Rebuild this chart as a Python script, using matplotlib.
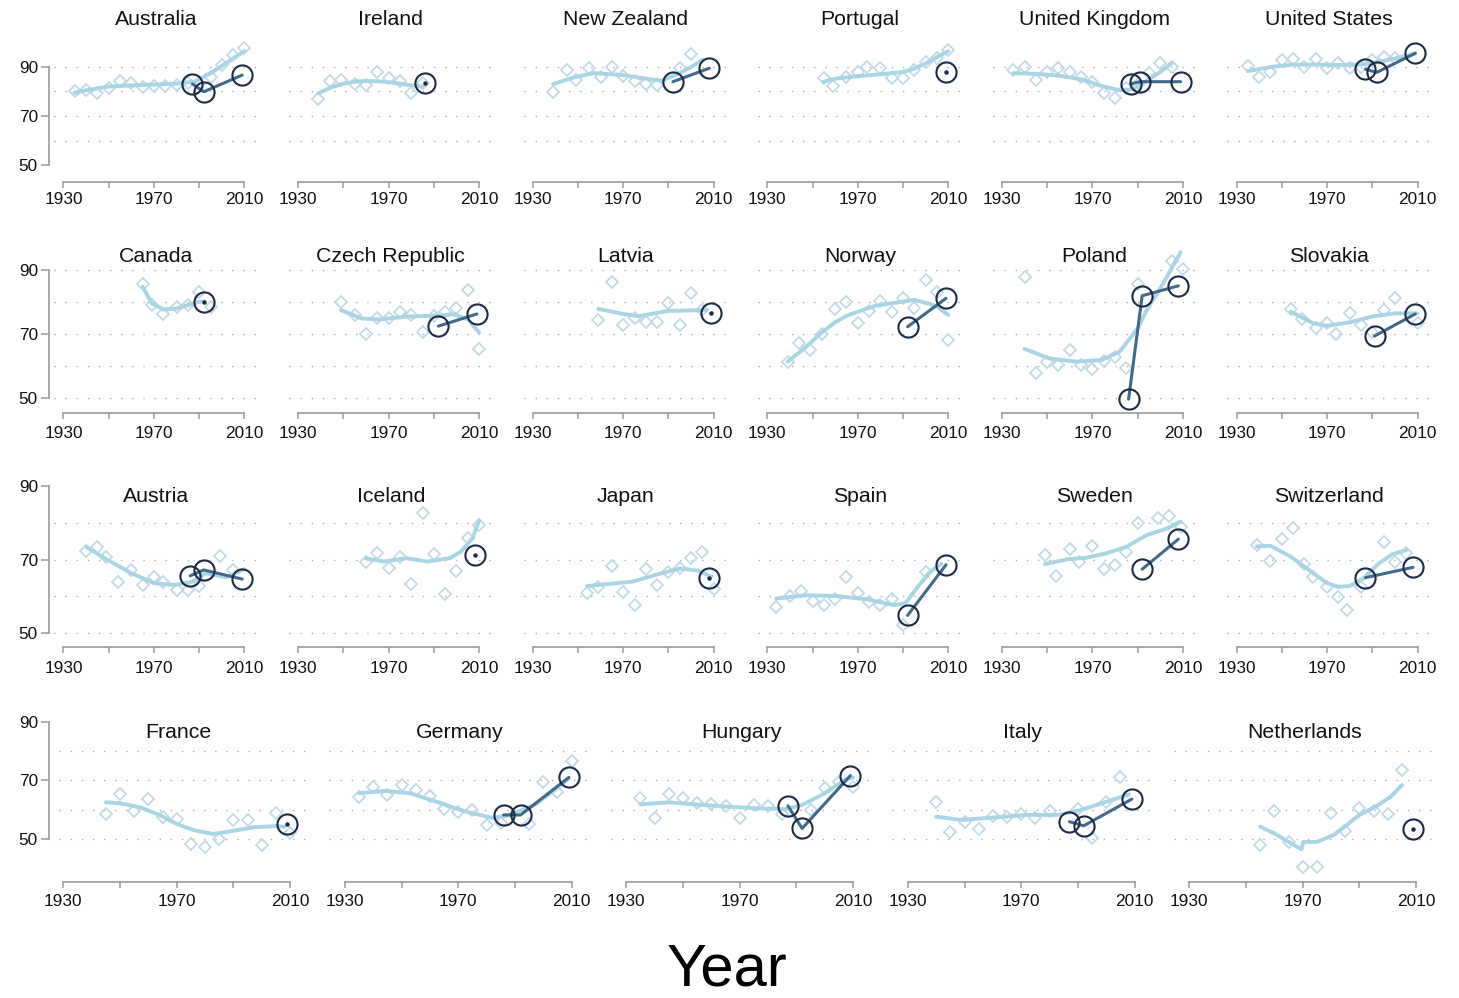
import matplotlib
matplotlib.use("Agg")
import matplotlib.pyplot as plt

plt.rcParams['font.family'] = ['Liberation Sans', 'DejaVu Sans']

# ---------------------------------------------------------------------------
# Data: (year, value) pairs per country.
#   *_obs    : yearly observations (light diamonds)
#   *_fit    : smoothed trend (light line)
#   *_survey : survey estimates (dark circles)
# ---------------------------------------------------------------------------
australia_obs = [(1935, 80.3), (1940, 80.6), (1945, 79.3), (1950, 81.3), (1955, 84.3), (1960, 83.6),
                 (1965, 81.7), (1970, 82.2), (1975, 82.2), (1980, 82.6), (1985, 83.3), (1990, 83.0),
                 (1995, 86.0), (2000, 90.8), (2005, 94.9), (2010, 97.6)]
australia_fit = [(1935, 79.5), (1940, 80.5), (1950, 82.0), (1960, 82.5), (1970, 82.8), (1980, 83.2),
                 (1988, 84.0), (1995, 87.5), (2000, 90.5), (2005, 93.5), (2010, 96.5)]
australia_survey = [(1987, 83.1), (1992, 79.9), (2009, 86.7)]

ireland_obs = [(1939, 76.8), (1944, 84.3), (1949, 84.7), (1955, 83.1), (1960, 82.7), (1965, 88.1),
               (1970, 85.4), (1975, 84.4), (1980, 79.3), (1985, 83.5)]
ireland_fit = [(1939, 79.3), (1945, 81.8), (1950, 83.2), (1955, 84.0), (1960, 84.3), (1965, 84.2),
               (1970, 83.8), (1975, 83.2), (1980, 82.5), (1985, 82.0)]
ireland_survey = [(1986, 83.3)]

new_zealand_obs = [(1939, 79.9), (1945, 88.8), (1949, 84.7), (1955, 89.5), (1960, 85.8), (1965, 89.9),
                   (1970, 86.3), (1975, 84.4), (1980, 82.9), (1985, 82.7), (1995, 89.5), (2000, 95.3)]
new_zealand_fit = [(1939, 83.0), (1948, 85.7), (1957, 87.5), (1970, 86.7), (1981, 85.1), (1987, 84.4),
                   (1994, 87.1), (2000, 90.0), (2005, 93.0)]
new_zealand_survey = [(1992, 84.0), (2008, 89.5)]

portugal_obs = [(1955, 85.6), (1959, 82.4), (1965, 86.0), (1970, 88.1), (1974, 89.9), (1980, 89.5),
                (1985, 85.4), (1990, 85.4), (1995, 88.8), (2000, 92.2), (2005, 93.8), (2010, 96.9)]
portugal_fit = [(1955, 84.0), (1960, 85.2), (1970, 86.3), (1980, 87.0), (1990, 88.0), (1995, 89.3),
                (2000, 91.5), (2005, 94.0), (2010, 96.5)]
portugal_survey = [(2009, 87.8)]

uk_obs = [(1935, 88.8), (1940, 89.9), (1945, 84.7), (1950, 88.1), (1955, 89.5), (1960, 88.1),
          (1965, 86.0), (1970, 84.0), (1975, 79.3), (1980, 77.2), (1985, 81.3), (1990, 83.0),
          (1995, 87.4), (2000, 91.5), (2005, 89.9)]
uk_fit = [(1935, 87.5), (1945, 87.2), (1955, 86.5), (1965, 85.0), (1975, 82.0), (1982, 80.5),
          (1988, 81.0), (1995, 85.0), (2000, 88.0), (2005, 91.5)]
uk_survey = [(1987, 83.1), (1991, 84.0), (2009, 84.0)]

us_obs = [(1935, 90.5), (1940, 86.0), (1945, 88.1), (1950, 92.9), (1955, 93.3), (1960, 89.9),
          (1965, 93.3), (1970, 89.5), (1975, 91.5), (1980, 89.5), (1985, 90.0), (1990, 92.9),
          (1995, 94.2), (2000, 93.5)]
us_fit = [(1935, 88.3), (1945, 90.0), (1955, 91.0), (1965, 91.0), (1975, 90.8), (1985, 91.0),
          (1995, 92.5), (2000, 93.5), (2009, 95.5)]
us_survey = [(1987, 89.1), (1992, 87.8), (2009, 95.6)]

canada_obs = [(1965, 85.4), (1969, 78.9), (1974, 76.0), (1980, 78.4), (1985, 78.9), (1990, 83.1),
              (1995, 78.4)]
canada_fit = [(1965, 84.6), (1969, 79.5), (1974, 77.5), (1980, 77.8), (1985, 78.9), (1990, 79.9),
              (1992, 80.0)]
canada_survey = [(1992, 79.9)]

czech_obs = [(1949, 79.9), (1955, 75.8), (1960, 69.8), (1965, 74.9), (1970, 74.7), (1975, 76.6),
             (1980, 75.8), (1985, 70.4), (1990, 75.5), (1995, 76.6), (2000, 77.9), (2005, 83.6),
             (2010, 65.1)]
czech_fit = [(1949, 77.3), (1958, 74.7), (1966, 74.4), (1978, 75.3), (1991, 75.6), (1999, 76.0),
             (2005, 74.4), (2010, 70.3)]
czech_survey = [(1992, 72.3), (2009, 76.1)]

latvia_obs = [(1959, 74.2), (1965, 86.2), (1970, 72.7), (1975, 74.9), (1980, 73.7), (1985, 73.7),
              (1990, 79.4), (1995, 72.7), (2000, 82.6), (2005, 77.3)]
latvia_fit = [(1959, 77.7), (1970, 76.1), (1977, 75.4), (1990, 77.1), (1995, 77.1), (2007, 77.4)]
latvia_survey = [(2009, 76.3)]

norway_obs = [(1939, 61.0), (1944, 66.9), (1949, 64.8), (1954, 69.7), (1960, 77.7), (1965, 79.9),
              (1970, 73.2), (1975, 77.0), (1980, 80.2), (1985, 76.6), (1990, 81.2), (1995, 77.9),
              (2000, 86.7), (2005, 83.1), (2010, 68.0)]
norway_fit = [(1939, 61.2), (1944, 64.0), (1948, 66.4), (1954, 70.3), (1960, 73.5), (1965, 75.5),
              (1970, 76.8), (1978, 78.7), (1995, 80.5), (2001, 79.4), (2005, 78.4), (2010, 75.8)]
norway_survey = [(1992, 72.1), (2009, 81.0)]

poland_obs = [(1940, 87.6), (1945, 57.8), (1950, 61.2), (1955, 60.2), (1960, 64.8), (1965, 60.2),
              (1970, 58.9), (1975, 61.5), (1980, 62.6), (1985, 59.3), (1990, 85.4), (2005, 92.7),
              (2010, 90.2)]
poland_fit = [(1940, 65.2), (1951, 62.2), (1963, 61.2), (1974, 61.7), (1982, 64.3), (1990, 71.6),
              (1994, 77.3), (2000, 84.1), (2009, 95.4)]
poland_survey = [(1986, 49.5), (1992, 81.8), (2008, 84.9)]

slovakia_obs = [(1954, 77.7), (1959, 74.5), (1965, 71.8), (1970, 73.2), (1974, 69.7), (1980, 76.5),
                (1985, 72.7), (1990, 70.5), (1995, 77.3), (2000, 81.2), (2010, 73.2)]
slovakia_fit = [(1954, 76.8), (1964, 73.2), (1970, 72.4), (1980, 73.5), (1990, 75.3), (2000, 76.3),
                (2010, 76.3)]
slovakia_survey = [(1991, 69.2), (2009, 76.1)]

austria_obs = [(1940, 72.4), (1945, 73.4), (1949, 70.7), (1954, 64.0), (1960, 67.2), (1965, 63.1),
               (1970, 65.2), (1974, 64.0), (1980, 61.6), (1985, 61.7), (1990, 62.9), (1999, 71.1),
               (2005, 67.2)]
austria_fit = [(1940, 73.5), (1949, 70.1), (1960, 66.3), (1970, 63.6), (1979, 63.1), (1987, 64.0),
               (1993, 66.3), (2002, 65.2), (2010, 67.4)]
austria_survey = [(1986, 65.6), (1992, 67.2), (2009, 64.7)]

iceland_obs = [(1960, 69.5), (1965, 71.9), (1970, 67.7), (1975, 70.7), (1980, 63.4), (1985, 82.8),
               (1990, 71.5), (1995, 60.7), (2000, 67.0), (2005, 75.8), (2010, 79.5)]
iceland_fit = [(1960, 70.4), (1968, 69.5), (1978, 70.4), (1987, 69.5), (1997, 70.4), (2002, 72.2),
               (2007, 75.8), (2010, 80.6)]
iceland_survey = [(2008, 71.3)]

japan_obs = [(1954, 60.8), (1959, 62.5), (1965, 68.3), (1970, 61.3), (1975, 57.7), (1980, 67.4),
             (1985, 63.1), (1990, 66.7), (1995, 67.6), (2000, 70.4), (2005, 72.2), (2010, 61.9)]
japan_fit = [(1954, 62.8), (1964, 63.4), (1974, 64.0), (1984, 65.8), (1995, 67.6), (2003, 67.0),
             (2009, 65.4)]
japan_survey = [(2008, 64.9)]

spain_obs = [(1934, 57.1), (1940, 60.1), (1945, 61.4), (1950, 58.7), (1955, 57.6), (1960, 59.2),
             (1965, 65.3), (1970, 60.8), (1975, 58.5), (1980, 57.6), (1985, 59.4), (1990, 52.1),
             (2000, 66.7)]
spain_fit = [(1934, 59.4), (1947, 60.3), (1960, 60.1), (1974, 59.2), (1986, 57.6), (1991, 58.1),
             (1996, 62.2), (2002, 66.7), (2007, 68.9)]
spain_survey = [(1992, 54.8), (2009, 68.6)]

sweden_obs = [(1949, 71.3), (1954, 65.6), (1960, 72.9), (1964, 69.5), (1970, 73.7), (1975, 67.4),
              (1980, 68.6), (1985, 72.2), (1990, 80.1), (1999, 81.4), (2004, 81.9), (2009, 79.0)]
sweden_fit = [(1949, 68.8), (1959, 70.1), (1967, 70.5), (1976, 71.7), (1985, 73.5), (1994, 76.7),
              (2003, 78.5), (2009, 80.4)]
sweden_survey = [(1992, 67.4), (2008, 75.6)]

switzerland_obs = [(1939, 74.0), (1945, 69.6), (1950, 75.6), (1955, 78.6), (1960, 68.8), (1964, 65.4),
                   (1970, 62.6), (1975, 59.8), (1979, 56.3), (1985, 62.5), (1995, 74.7), (2000, 69.5),
                   (2005, 71.9)]
switzerland_fit = [(1939, 73.6), (1945, 73.8), (1954, 70.8), (1964, 66.3), (1970, 63.6), (1975, 62.6),
                   (1980, 62.8), (1986, 64.9), (1993, 69.0), (1999, 71.5), (2005, 72.6)]
switzerland_survey = [(1987, 65.1), (2008, 67.9)]

france_obs = [(1945, 58.5), (1950, 65.2), (1955, 59.5), (1960, 63.5), (1965, 57.6), (1970, 56.7),
              (1975, 48.3), (1980, 47.2), (1985, 49.9), (1990, 56.5), (1995, 56.5), (2000, 47.9),
              (2005, 59.0), (2010, 52.2)]
france_fit = [(1945, 62.5), (1950, 62.2), (1957, 60.8), (1964, 58.2), (1970, 55.1), (1976, 53.0),
              (1983, 51.7), (1990, 52.8), (1997, 54.0), (2005, 54.4), (2008, 54.2)]
france_survey = [(2009, 55.0)]

germany_obs = [(1935, 64.4), (1940, 67.8), (1945, 65.0), (1950, 68.4), (1955, 66.7), (1960, 64.7),
               (1965, 60.2), (1970, 59.1), (1975, 59.9), (1980, 54.8), (1985, 55.3), (1995, 55.0),
               (2000, 69.5), (2005, 65.9), (2010, 76.6)]
germany_fit = [(1935, 65.6), (1944, 66.4), (1953, 65.6), (1963, 62.5), (1972, 59.5), (1982, 57.2),
               (1987, 57.9), (1997, 61.6), (2004, 66.7), (2009, 70.7)]
germany_survey = [(1986, 58.2), (1992, 58.2), (2009, 71.0)]

hungary_obs = [(1935, 64.1), (1940, 57.0), (1945, 65.2), (1950, 63.9), (1955, 62.2), (1960, 61.8),
               (1965, 61.3), (1970, 57.2), (1975, 61.6), (1980, 61.3), (1985, 58.5), (1995, 59.9),
               (2000, 67.5), (2005, 69.5), (2010, 67.8)]
hungary_fit = [(1935, 61.8), (1945, 62.5), (1954, 61.8), (1966, 61.0), (1977, 60.4), (1986, 60.2),
               (1992, 61.6), (2000, 65.6), (2007, 70.1), (2010, 71.0)]
hungary_survey = [(1987, 61.3), (1992, 53.6), (2009, 71.6)]

italy_obs = [(1940, 62.5), (1945, 52.3), (1950, 55.7), (1955, 53.4), (1960, 57.9), (1965, 57.4),
             (1970, 58.5), (1975, 57.0), (1980, 59.6), (1990, 60.2), (1995, 50.4), (2000, 62.5),
             (2005, 71.2)]
italy_fit = [(1940, 57.6), (1949, 56.5), (1961, 57.4), (1972, 58.2), (1983, 58.2), (1991, 59.9),
             (2000, 62.7), (2008, 65.2)]
italy_survey = [(1987, 55.9), (1992, 54.5), (2009, 63.6)]

netherlands_obs = [(1955, 48.0), (1960, 59.6), (1965, 49.0), (1970, 40.5), (1975, 40.5), (1980, 58.9),
                   (1985, 52.7), (1990, 60.7), (1995, 59.5), (2000, 58.5), (2005, 73.5)]
netherlands_fit = [(1955, 54.2), (1960, 51.9), (1965, 49.0), (1969.6, 46.5), (1970.2, 49.0), (1975, 49.0),
                   (1981, 51.4), (1985.5, 54.8), (1990, 58.2), (1996, 61.2), (2001, 64.4), (2005, 68.4)]
netherlands_survey = [(2009, 53.3)]

panel_rows = [
    [("Australia", australia_obs, australia_fit, australia_survey),
     ("Ireland", ireland_obs, ireland_fit, ireland_survey),
     ("New Zealand", new_zealand_obs, new_zealand_fit, new_zealand_survey),
     ("Portugal", portugal_obs, portugal_fit, portugal_survey),
     ("United Kingdom", uk_obs, uk_fit, uk_survey),
     ("United States", us_obs, us_fit, us_survey)],
    [("Canada", canada_obs, canada_fit, canada_survey),
     ("Czech Republic", czech_obs, czech_fit, czech_survey),
     ("Latvia", latvia_obs, latvia_fit, latvia_survey),
     ("Norway", norway_obs, norway_fit, norway_survey),
     ("Poland", poland_obs, poland_fit, poland_survey),
     ("Slovakia", slovakia_obs, slovakia_fit, slovakia_survey)],
    [("Austria", austria_obs, austria_fit, austria_survey),
     ("Iceland", iceland_obs, iceland_fit, iceland_survey),
     ("Japan", japan_obs, japan_fit, japan_survey),
     ("Spain", spain_obs, spain_fit, spain_survey),
     ("Sweden", sweden_obs, sweden_fit, sweden_survey),
     ("Switzerland", switzerland_obs, switzerland_fit, switzerland_survey)],
    [("France", france_obs, france_fit, france_survey),
     ("Germany", germany_obs, germany_fit, germany_survey),
     ("Hungary", hungary_obs, hungary_fit, hungary_survey),
     ("Italy", italy_obs, italy_fit, italy_survey),
     ("Netherlands", netherlands_obs, netherlands_fit, netherlands_survey)],
]

x_ticks = [1930, 1950, 1970, 1990, 2010]
x_tick_labels = ["1930", "", "1970", "", "2010"]
y_ticks = [50, 70, 90]
grid_levels = [[60, 70, 80, 90], [50, 60, 70, 80, 90], [50, 60, 70, 80], [50, 60, 70, 80]]

# ---------------------------------------------------------------------------
# Layout (pixels, measured from the top-left corner of the canvas)
# ---------------------------------------------------------------------------
W, H = 1459, 998
PT = 72.0 / 100.0  # points per pixel at dpi=100

row_layout = [
    # axes top/bottom px, two (value, px) anchors, 1930 x px, panel step, px per year, xlim,
    # title baseline px, x label pad (pt)
    dict(top=40, bottom=182, ref=((90, 67.0), (50, 165.0)), x1930=63.5, step=234.6, pxyr=2.2625,
         xlim=(1926, 2016), title_y=25, xpad=3.2),
    dict(top=246, bottom=413, ref=((90, 269.5), (50, 397.5)), x1930=63.5, step=234.6, pxyr=2.2625,
         xlim=(1926, 2016), title_y=261.5, xpad=5.2),
    dict(top=478, bottom=647, ref=((80, 523.0), (50, 633.0)), x1930=63.5, step=234.6, pxyr=2.2625,
         xlim=(1926, 2016), title_y=501.5, xpad=6.0),
    dict(top=712, bottom=882, ref=((80, 751.0), (50, 839.0)), x1930=63.3, step=281.5, pxyr=2.836,
         xlim=(1924.5, 2016.5), title_y=738, xpad=4.5),
]
Y_SPINE_PX = 49

OBS_COLOR = "#c2dae6"
FIT_COLOR = "#a8d5e4"
SURVEY_LINE = "#41698a"
SURVEY_EDGE = "#1b2a45"
AXIS_COLOR = "#9a9a9a"
GRID_COLOR = "#b0b0b0"

fig = plt.figure(figsize=(W / 100, H / 100), dpi=100)

for r, (row, lay) in enumerate(zip(panel_rows, row_layout)):
    (v1, p1), (v2, p2) = lay["ref"]
    per = (p2 - p1) / (v1 - v2)           # px per unit
    ytop = v1 + (p1 - lay["top"]) / per
    ybot = v1 - (lay["bottom"] - p1) / per
    for k, (name, obs, fit, survey) in enumerate(row):
        x0 = lay["x1930"] + k * lay["step"]
        left = x0 - (1930 - lay["xlim"][0]) * lay["pxyr"]
        right = x0 + (lay["xlim"][1] - 1930) * lay["pxyr"]
        ax = fig.add_axes([left / W, 1 - lay["bottom"] / H, (right - left) / W,
                           (lay["bottom"] - lay["top"]) / H])
        ax.set_xlim(*lay["xlim"])
        ax.set_ylim(ybot, ytop)
        ax.patch.set_alpha(0)

        for g in grid_levels[r]:
            ax.axhline(g, color=GRID_COLOR, lw=1.0, ls=(0, (1, 7)), zorder=0)

        ox, oy = zip(*obs)
        ax.plot(ox, oy, ls="none", marker="D", ms=6.6, mfc="none", mec=OBS_COLOR, mew=1.3,
                zorder=1, clip_on=False)
        fx, fy = zip(*fit)
        ax.plot(fx, fy, color=FIT_COLOR, lw=2.8, solid_capstyle="round", solid_joinstyle="round",
                zorder=2, clip_on=False)
        sx, sy = zip(*survey)
        if len(survey) > 1:
            ax.plot(sx, sy, color=SURVEY_LINE, lw=2.2, solid_capstyle="round", zorder=3, clip_on=False)
        else:
            ax.plot(sx, sy, ls="none", marker="o", ms=2.2, color=SURVEY_EDGE, zorder=4, clip_on=False)
        ax.plot(sx, sy, ls="none", marker="o", ms=14.5, mfc="none", mec=SURVEY_EDGE, mew=1.5,
                zorder=5, clip_on=False)

        # axes frame
        for side in ("top", "right"):
            ax.spines[side].set_visible(False)
        ax.spines["bottom"].set_color(AXIS_COLOR)
        ax.spines["bottom"].set_linewidth(1.2)
        ax.spines["bottom"].set_bounds(1930, 2010)
        ax.set_xticks(x_ticks)
        ax.set_xticklabels(x_tick_labels)
        ax.tick_params(axis="x", direction="out", length=4, width=1.1, color=AXIS_COLOR,
                       labelsize=12.4, labelcolor="#111111", pad=lay["xpad"])

        if k == 0:
            ax.spines["left"].set_color(AXIS_COLOR)
            ax.spines["left"].set_linewidth(1.2)
            ax.spines["left"].set_bounds(50, 90)
            ax.spines["left"].set_position(("outward", (left - Y_SPINE_PX) * PT))
            ax.set_yticks(y_ticks)
            ax.tick_params(axis="y", direction="out", length=6, width=1.1, color=AXIS_COLOR,
                           labelsize=12.4, labelcolor="#111111", pad=2)
        else:
            ax.spines["left"].set_visible(False)
            ax.set_yticks([])

        fig.text((left + right) / 2 / W, 1 - lay["title_y"] / H, name, ha="center", va="baseline",
                 fontsize=15.3, color="#111111")

fig.text(727 / W, 1 - 986 / H, "Year", ha="center", va="baseline", fontsize=43, color="#000000")

fig.savefig("out.png", dpi=100)
